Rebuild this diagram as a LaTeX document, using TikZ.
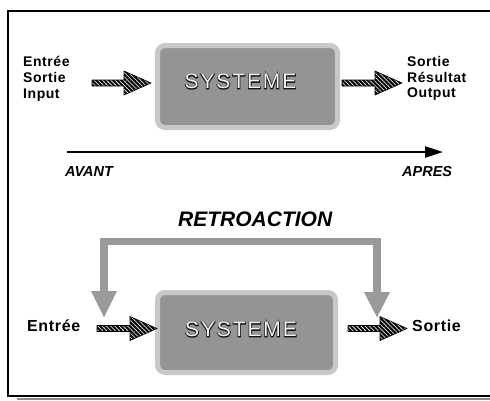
\documentclass[tikz,border=0pt]{standalone}
\usepackage{fontspec}
\setmainfont{Liberation Sans}
\newfontfamily\sysfont[LetterSpace=9]{Liberation Sans}
\newfontfamily\labfont[LetterSpace=4]{Liberation Sans}
\usetikzlibrary{arrows.meta,patterns.meta,calc}

\definecolor{rimgrey}{HTML}{C8C8C8}
\definecolor{boxgrey}{HTML}{949494}
\definecolor{fbgrey}{HTML}{9A9A9A}
\definecolor{letterfill}{HTML}{F2F2F2}
\definecolor{shadowgrey}{HTML}{8C8C8C}

% outlined lettering: a dark stroked copy underneath, the light fill on top
\newcommand\outlined[1]{\rlap{\special{pdf:literal direct 0.08 G 1.5 w 1 Tr}#1\special{pdf:literal direct 0 Tr}}#1}

% striped block arrow from coordinate #1 to tip coordinate #2
\newcommand\hatcharrow[2]{%
  \filldraw[hatchstyle] let \p1=(#1), \p2=(#2) in
    (\x1,\y1+3pt) -- (\x2-27pt,\y1+3pt) -- (\x2-27pt,\y1+12pt) -- (\x2,\y1)
    -- (\x2-27pt,\y1-12pt) -- (\x2-27pt,\y1-3pt) -- (\x1,\y1-3pt) -- cycle;}

\tikzset{
  hatchstyle/.style={draw=black, line width=0.6pt, fill=white,
    pattern={Lines[angle=-45,distance=3pt,line width=2.1pt]}, pattern color=black},
  sysbox/.style={draw=rimgrey, fill=boxgrey, line width=5pt, rounded corners=7.5pt,
    rectangle, inner sep=0pt},
  systext/.style={font=\sysfont\fontsize{21}{24}\selectfont, text=letterfill, inner sep=0pt},
  lab/.style={font=\labfont\bfseries\fontsize{14}{16}\selectfont, inner sep=0pt, anchor=base west},
  biglab/.style={font=\labfont\bfseries\fontsize{16}{18}\selectfont, inner sep=0pt, anchor=base west},
  timelab/.style={font=\bfseries\itshape\fontsize{14.5}{17}\selectfont, inner sep=0pt, anchor=base west},
  titlelab/.style={font=\bfseries\itshape\fontsize{21}{24}\selectfont, inner sep=0pt, anchor=base west},
  axis/.style={line width=2.2pt, -{Triangle[length=18pt,width=11pt]}},
  feedback/.style={draw=fbgrey, line width=7.5pt, line join=miter,
    {Triangle[length=27pt,width=24pt,fill=fbgrey]}-{Triangle[length=26pt,width=24pt,fill=fbgrey]}},
  frame/.style={draw=black, line width=1.2pt},
  shadowline/.style={draw=shadowgrey, line width=2pt}
}

\begin{document}
\begin{tikzpicture}[x=1pt,y=-1pt]
\useasboundingbox (0,0) rectangle (490,400);
\clip (0,0) rectangle (490,400);
\fill[white] (0,0) rectangle (490,400);

% page frame with its shadow line
\draw[shadowline] (17,399.3) -- (495,399.3);
\draw[frame] (8,11) rectangle (500,396);

% ---- upper part: input -> system -> output, along time ----
\node[sysbox, minimum width=180pt, minimum height=82pt] (sysA) at (247.5,86.5) {};
\node[systext] (sysAtxt) at (240.5,81.5) {\outlined{SYSTEME}};

\node[lab] (inA1) at (23,66.7) {Entrée};
\node[lab] (inA2) at (23,82.4) {Sortie};
\node[lab] (inA3) at (23,98.1) {Input};

\node[lab] (outA1) at (407,66.5) {Sortie};
\node[lab] (outA2) at (407,82) {Résultat};
\node[lab] (outA3) at (407,97.5) {Output};

\coordinate (a1s) at (92,83);
\coordinate (a1e) at (151,83);
\coordinate (a2s) at (342,83);
\coordinate (a2e) at (402,83);
\hatcharrow{a1s}{a1e}
\hatcharrow{a2s}{a2e}

\coordinate (ax0) at (67,152);
\coordinate (ax1) at (443,152);
\draw[axis] (ax0) -- (ax1);
\node[timelab] (avant) at (65,176.7) {AVANT};
\node[timelab] (apres) at (402,176.7) {APRES};

% ---- lower part: system with feedback ----
\node[titlelab] (retro) at (178,226.7) {RETROACTION};

\node[sysbox, minimum width=178pt, minimum height=80pt] (sysB) at (246.5,332.5) {};
\node[systext] (sysBtxt) at (241,329.5) {\outlined{SYSTEME}};

\node[biglab] (inB) at (27,331.7) {Entrée};
\node[biglab] (outB) at (412,331.7) {Sortie};

\coordinate (a3s) at (97,328.5);
\coordinate (a3e) at (157,328.5);
\coordinate (a4s) at (348,328.5);
\coordinate (a4e) at (407,328.5);
\hatcharrow{a3s}{a3e}
\hatcharrow{a4s}{a4e}

\coordinate (fbL) at (104,318);
\coordinate (fbR) at (377,318);
\draw[feedback] (fbL) -- (fbL |- 0,241.5) -- (fbR |- 0,241.5) -- (fbR);
\end{tikzpicture}
\end{document}
